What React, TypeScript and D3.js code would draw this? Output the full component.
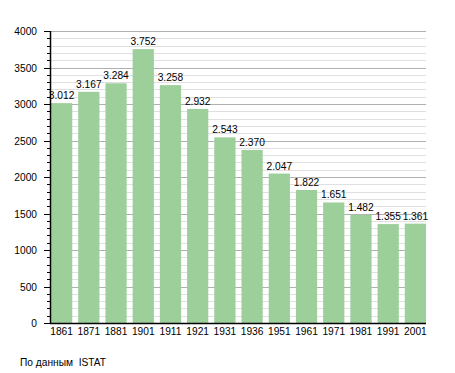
import { useEffect, useRef } from "react";
import * as d3 from "d3";

const years = ["1861", "1871", "1881", "1901", "1911", "1921", "1931", "1936", "1951", "1961", "1971", "1981", "1991", "2001"];
const population = [3012, 3167, 3284, 3752, 3258, 2932, 2543, 2370, 2047, 1822, 1651, 1482, 1355, 1361];
const yTicks = [0, 500, 1000, 1500, 2000, 2500, 3000, 3500, 4000];
const sourceNote = "По данным  ISTAT";

export default function App() {
  const ref = useRef<SVGSVGElement | null>(null);

  useEffect(() => {
    if (!ref.current) return;

    const width = 455;
    const height = 373;
    const left = 50;
    const right = 426;
    const top = 31;
    const bottom = 323;
    const font = "'Liberation Sans', Arial, sans-serif";
    const fs = 10.2;

    const svg = d3.select(ref.current).attr("viewBox", `0 0 ${width} ${height}`);
    svg.selectAll("*").remove();

    const x = d3.scaleBand().domain(years).range([left + 1, right]).paddingInner(0.22).paddingOuter(0);
    const y = d3.scaleLinear().domain([0, 4000]).range([bottom, top]);

    /* ---------------- GRID ---------------- */

    const minor = d3.range(100, 4001, 100).filter(v => v % 500 !== 0);

    svg.selectAll(".minor")
      .data(minor)
      .enter()
      .append("line")
      .attr("x1", left)
      .attr("x2", right)
      .attr("y1", d => Math.round(y(d)) + 0.5)
      .attr("y2", d => Math.round(y(d)) + 0.5)
      .attr("stroke", "#e0e0e0")
      .attr("stroke-width", 1);

    svg.selectAll(".major")
      .data(yTicks.filter(v => v > 0))
      .enter()
      .append("line")
      .attr("x1", left)
      .attr("x2", right)
      .attr("y1", d => Math.round(y(d)) + 0.5)
      .attr("y2", d => Math.round(y(d)) + 0.5)
      .attr("stroke", "#b0b0b0")
      .attr("stroke-width", 1);

    /* ---------------- BARS ---------------- */

    svg.selectAll(".bar")
      .data(population)
      .enter()
      .append("rect")
      .attr("x", (_, i) => x(years[i])!)
      .attr("y", d => y(d))
      .attr("width", x.bandwidth())
      .attr("height", d => bottom - y(d))
      .attr("fill", "#9ccf9a");

    svg.selectAll(".val")
      .data(population)
      .enter()
      .append("text")
      .attr("x", (_, i) => x(years[i])! + x.bandwidth() / 2)
      .attr("y", d => y(d) - 4)
      .attr("text-anchor", "middle")
      .attr("font-family", font)
      .attr("font-size", fs)
      .attr("fill", "#000")
      .text(d => d3.format(",")(d).replace(",", "."));

    /* ---------------- AXES ---------------- */

    svg.selectAll(".mtick")
      .data(minor)
      .enter()
      .append("line")
      .attr("x1", left - 3)
      .attr("x2", left)
      .attr("y1", d => Math.round(y(d)) + 0.5)
      .attr("y2", d => Math.round(y(d)) + 0.5)
      .attr("stroke", "#000");

    svg.selectAll(".tick")
      .data(yTicks)
      .enter()
      .append("line")
      .attr("x1", left - 6)
      .attr("x2", left)
      .attr("y1", d => Math.round(y(d)) + 0.5)
      .attr("y2", d => Math.round(y(d)) + 0.5)
      .attr("stroke", "#000");

    svg.selectAll(".ylab")
      .data(yTicks)
      .enter()
      .append("text")
      .attr("x", left - 13)
      .attr("y", d => y(d) + 4)
      .attr("text-anchor", "end")
      .attr("font-family", font)
      .attr("font-size", fs)
      .text(d => d);

    svg.append("line")
      .attr("x1", left + 0.5)
      .attr("x2", left + 0.5)
      .attr("y1", top)
      .attr("y2", bottom + 1)
      .attr("stroke", "#000")
      .attr("stroke-width", 1.5);

    svg.append("line")
      .attr("x1", left)
      .attr("x2", right)
      .attr("y1", bottom + 0.5)
      .attr("y2", bottom + 0.5)
      .attr("stroke", "#000")
      .attr("stroke-width", 1.5);

    svg.selectAll(".xlab")
      .data(years)
      .enter()
      .append("text")
      .attr("x", d => x(d)! + x.bandwidth() / 2)
      .attr("y", bottom + 12)
      .attr("text-anchor", "middle")
      .attr("font-family", font)
      .attr("font-size", fs)
      .text(d => d);

    svg.append("text")
      .attr("x", 20)
      .attr("y", 366)
      .attr("font-family", font)
      .attr("font-size", fs)
      .style("white-space", "pre")
      .text(sourceNote);
  }, []);

  return (
    <svg
      ref={ref}
      width={455}
      height={373}
      style={{ position: "absolute", left: 0, top: 0, background: "#fff" }}
    />
  );
}
